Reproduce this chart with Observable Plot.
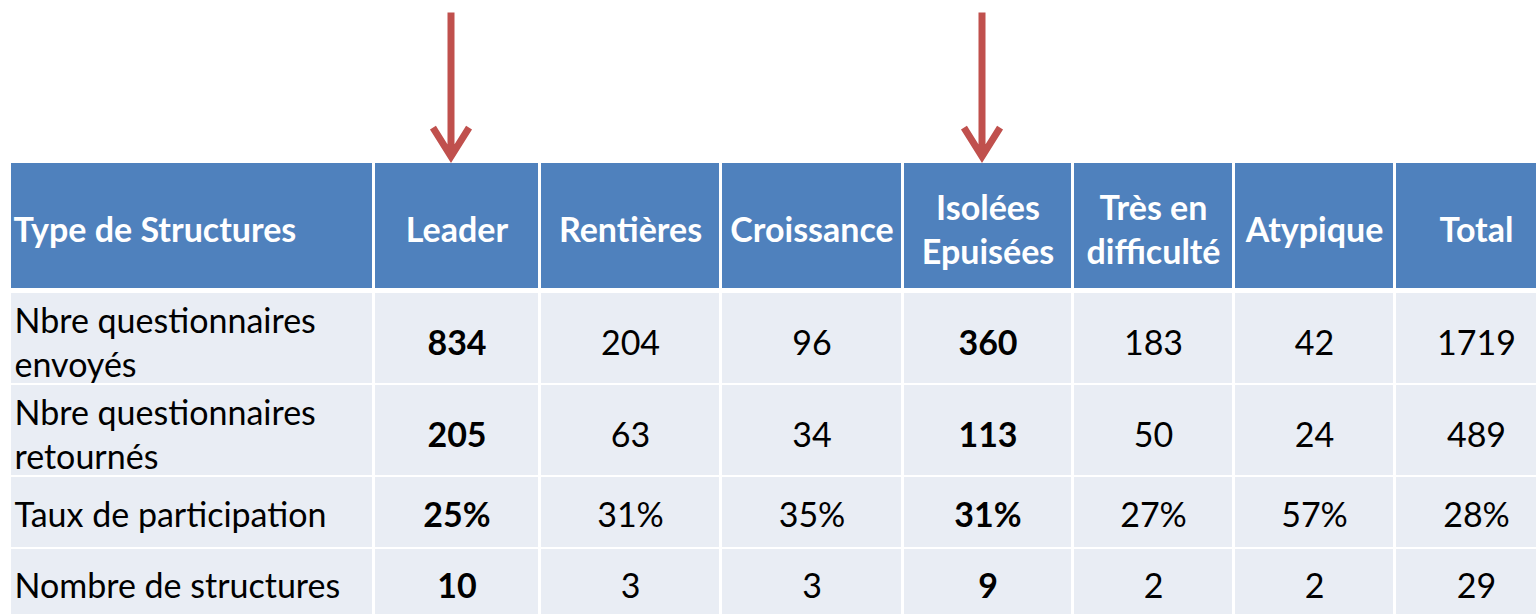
<!DOCTYPE html>
<html>
<head>
<meta charset="utf-8">
<script src="https://cdn.jsdelivr.net/npm/d3@7"></script>
<script src="https://cdn.jsdelivr.net/npm/@observablehq/plot@0.6"></script>
<style>
  html, body { margin: 0; padding: 0; background: #ffffff; }
  #chart svg { display: block; }
</style>
</head>
<body>
<div id="chart"></div>
<script>
// ---------- Data ----------
const cornerLabel = "Type de Structures";
const categories = ["Leader", "Rentières", "Croissance", "Isolées\nEpuisées", "Très en\ndifficulté", "Atypique", "Total"];
const highlighted = ["Leader", "Isolées\nEpuisées"];
const rowLabels = ["Nbre questionnaires\nenvoyés", "Nbre questionnaires\nretournés", "Taux de participation", "Nombre de structures"];
const envoyes = [834, 204, 96, 360, 183, 42, 1719];
const retournes = [205, 63, 34, 113, 50, 24, 489];
const tauxParticipation = [25, 31, 35, 31, 27, 57, 28];
const nombreStructures = [10, 3, 3, 9, 2, 2, 29];

// ---------- Layout (pixels) ----------
const W = 1536, H = 614;
const colWidths = [361, 163, 178, 179, 167, 158, 158, 160]; // cell widths
const colGap = 3;
const tableLeft = 11;
const rowTops = [163, 293, 385, 477, 549];
const rowBottoms = [288, 383, 475, 547, 620];
const textShift = [2, 2, 2, 0, -1];
const headerColor = "#4F81BD";
const bodyColor = "#E9EDF4";
const arrowColor = "#C0504D";
const fontSize = 34;

const colX1 = [], colX2 = [];
{
  let x = tableLeft;
  for (const w of colWidths) { colX1.push(x); colX2.push(x + w); x += w + colGap; }
}

// ---------- Build table cells ----------
const valueRows = [
  envoyes.map(String),
  retournes.map(String),
  tauxParticipation.map(v => v + "%"),
  nombreStructures.map(String)
];

const cells = [];
cells.push({row: 0, col: 0, text: cornerLabel, kind: "cornerHeader"});
categories.forEach((c, i) => cells.push({row: 0, col: i + 1, text: c, kind: "header"}));
rowLabels.forEach((lab, r) => {
  cells.push({row: r + 1, col: 0, text: lab, kind: "rowLabel"});
  valueRows[r].forEach((v, i) => cells.push({
    row: r + 1, col: i + 1, text: v,
    kind: highlighted.includes(categories[i]) ? "boldValue" : "value"
  }));
});

const cx1 = d => colX1[d.col];
const cx2 = d => colX2[d.col];
const cy1 = d => rowTops[d.row];
const cy2 = d => rowBottoms[d.row];
const cyMid = d => (rowTops[d.row] + rowBottoms[d.row]) / 2 + textShift[d.row];
const cxMid = d => (colX1[d.col] + colX2[d.col]) / 2;

const arrows = highlighted.map(c => {
  const col = categories.indexOf(c) + 1;
  return {x: (colX1[col] + colX2[col]) / 2, y1: 12, y2: 156};
});

const textBase = {fontSize, lineHeight: 1.3, lineAnchor: "middle"};

const chart = Plot.plot({
  width: W,
  height: H,
  margin: 0,
  x: {domain: [0, W], range: [0, W], axis: null},
  y: {domain: [0, H], range: [0, H], axis: null},
  style: {fontFamily: "Lato, 'Open Sans', sans-serif", background: "#ffffff", overflow: "hidden"},
  marks: [
    Plot.rect(cells, {
      x1: cx1, x2: cx2, y1: cy1, y2: cy2,
      fill: d => d.row === 0 ? headerColor : bodyColor
    }),
    Plot.text(cells.filter(d => d.kind === "cornerHeader"), {
      ...textBase, x: d => colX1[d.col] + 2, y: cyMid, text: "text",
      textAnchor: "start", fill: "#ffffff", fontWeight: "bold"
    }),
    Plot.text(cells.filter(d => d.kind === "header"), {
      ...textBase, x: cxMid, y: cyMid, text: "text",
      textAnchor: "middle", fill: "#ffffff", fontWeight: "bold"
    }),
    Plot.text(cells.filter(d => d.kind === "rowLabel"), {
      ...textBase, x: d => colX1[d.col] + 3, y: cyMid, text: "text",
      textAnchor: "start", fill: "#000000"
    }),
    Plot.text(cells.filter(d => d.kind === "boldValue"), {
      ...textBase, x: cxMid, y: cyMid, text: "text",
      textAnchor: "middle", fill: "#000000", fontWeight: "bold"
    }),
    Plot.text(cells.filter(d => d.kind === "value"), {
      ...textBase, x: cxMid, y: cyMid, text: "text",
      textAnchor: "middle", fill: "#000000"
    }),
    Plot.arrow(arrows, {
      x1: "x", x2: "x", y1: "y1", y2: "y2", dx: -6,
      stroke: arrowColor, strokeWidth: 7, headLength: 7.3, headAngle: 64,
      strokeLinejoin: "miter", strokeLinecap: "butt", strokeMiterlimit: 4
    })
  ]
});

document.getElementById("chart").append(chart);
</script>
</body>
</html>
